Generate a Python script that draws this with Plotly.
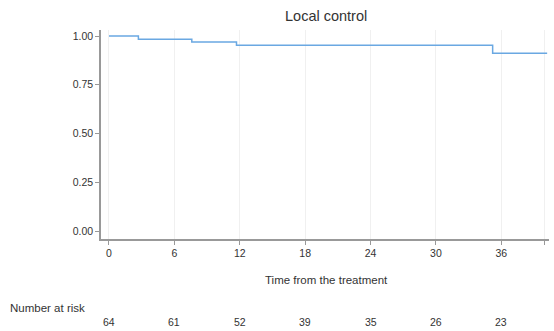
import plotly.graph_objects as go

# Kaplan-Meier step data (time in months, survival)
times = [0, 2.7, 7.6, 11.7, 35.2, 40.2]
surv = [1.0, 0.984, 0.969, 0.953, 0.912, 0.912]

tick_vals = [0, 6, 12, 18, 24, 30, 36, 40]
tick_text = ["0", "6", "12", "18", "24", "30", "36", ""]

risk_times = [0, 6, 12, 18, 24, 30, 36]
risk_counts = [64, 61, 52, 39, 35, 26, 23]

font = "Liberation Sans, Arial, sans-serif"

fig = go.Figure()
fig.add_trace(go.Scatter(x=times, y=surv, mode="lines", line=dict(color="#6aa8e2", width=1.5, shape="hv"),
                         showlegend=False, hoverinfo="skip"))

annotations = [
    dict(text="Local control", x=0.503, y=1.0, xref="paper", yref="paper", yanchor="bottom",
         yshift=4, showarrow=False, font=dict(size=14.5, color="#333", family=font)),
    dict(text="Time from the treatment", x=0.503, y=-0.196, xref="paper", yref="paper",
         xanchor="center", yanchor="middle",
         showarrow=False, font=dict(size=11.5, color="#333", family=font)),
    dict(text="Number at risk", x=-0.207, y=-0.33, xref="paper", yref="paper", xanchor="left",
         yanchor="middle", showarrow=False, font=dict(size=11.5, color="#333", family=font)),
]
for t, c in zip(risk_times, risk_counts):
    annotations.append(dict(text=str(c), x=t, y=-0.397, xref="x", yref="paper", showarrow=False,
                            xanchor="center", yanchor="middle",
                            font=dict(size=10.5, color="#333", family=font)))

fig.update_layout(
    width=554, height=331,
    margin=dict(l=101, r=5, t=30, b=92),
    paper_bgcolor="white", plot_bgcolor="white",
    font=dict(family=font, size=10, color="#333"),
    annotations=annotations,
    xaxis=dict(range=[-0.73, 40.37], tickvals=tick_vals, ticktext=tick_text,
               showgrid=True, gridcolor="#f0f0f0", gridwidth=1, zeroline=False,
               showline=True, linecolor="#999", linewidth=1.5,
               ticks="outside", ticklen=4, tickcolor="#999", tickfont=dict(size=10.5)),
    yaxis=dict(range=[-0.041, 1.031], tickvals=[0, 0.25, 0.5, 0.75, 1.0],
               ticktext=["0.00", "0.25", "0.50", "0.75", "1.00"],
               showgrid=False, zeroline=False, showline=True, linecolor="#999", linewidth=1.5,
               ticks="outside", ticklen=4, tickcolor="#999", tickfont=dict(size=10.5)),
)

fig.write_html("out.html")
